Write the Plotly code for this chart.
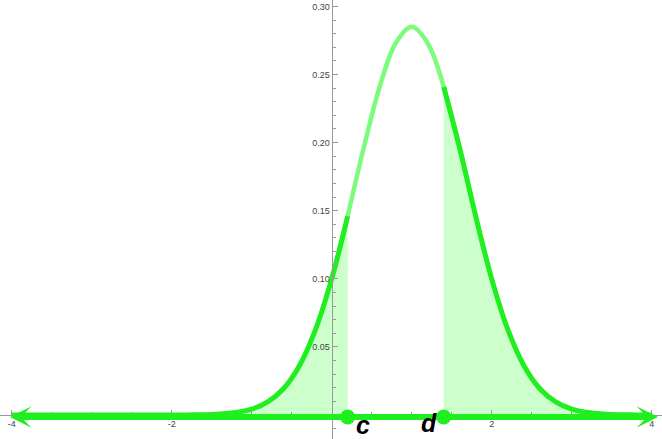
import plotly.graph_objects as go

# curve (x step 0.2)
x_vals = [-4.0, -3.8, -3.6, -3.4, -3.2, -3.0, -2.8, -2.6, -2.4, -2.2,
          -2.0, -1.8, -1.6, -1.4, -1.2, -1.0, -0.8, -0.6, -0.4, -0.2,
          0.0, 0.2, 0.4, 0.6, 0.8, 1.0, 1.2, 1.4, 1.6, 1.8,
          2.0, 2.2, 2.4, 2.6, 2.8, 3.0, 3.2, 3.4, 3.6, 3.8, 4.0]
y_vals = [0.0, 0.0, 0.0, 0.0, 0.0, 0.0, 0.0, 0.0, 0.0, 0.0,
          0.0, 0.0001, 0.0002, 0.0007, 0.0018, 0.0043, 0.0096, 0.0195, 0.0366, 0.0631,
          0.100, 0.146, 0.196, 0.241, 0.273, 0.285, 0.273, 0.241, 0.196, 0.146,
          0.100, 0.0631, 0.0366, 0.0195, 0.0096, 0.0043, 0.0018, 0.0007, 0.0002, 0.0001, 0.0]

c_val = 0.2
d_val = 1.4
point_labels = ["c", "d"]

x_ticks = [-4, -2, 2, 4]
x_ticktext = ["-4", "-2", "2", "4"]
y_ticks = [0.05, 0.10, 0.15, 0.20, 0.25, 0.30]
y_ticktext = ["0.05", "0.10", "0.15", "0.20", "0.25", "0.30"]
x_minor = [-3.5, -3, -2.5, -1.5, -1, -0.5, 0.5, 1, 1.5, 2.5, 3, 3.5]
y_minor = [-0.01] + [round(0.01 * i, 2) for i in range(1, 31)]

GREEN = "#1fee1f"
LIGHT = "#7dfb7d"
FILL = "#ccffcc"

X_RANGE = [-4.146, 4.129]
Y_RANGE = [-0.0176, 0.3047]

left = [(x, y) for x, y in zip(x_vals, y_vals) if x <= c_val + 1e-9]
mid = [(x, y) for x, y in zip(x_vals, y_vals) if c_val - 1e-9 <= x <= d_val + 1e-9]
right = [(x, y) for x, y in zip(x_vals, y_vals) if x >= d_val - 1e-9]

fig = go.Figure()

# shaded tails
for seg in (left, right):
    fig.add_trace(go.Scatter(
        x=[p[0] for p in seg] + [seg[-1][0]], y=[p[1] for p in seg] + [0],
        mode="lines", line=dict(width=0, shape="linear"),
        fill="tozeroy", fillcolor=FILL, hoverinfo="skip"))

# curve: light in the middle, bright in the tails
fig.add_trace(go.Scatter(x=[p[0] for p in mid], y=[p[1] for p in mid], mode="lines",
                         line=dict(color=LIGHT, width=4.5, shape="spline")))
for seg in (left, right):
    fig.add_trace(go.Scatter(x=[p[0] for p in seg], y=[p[1] for p in seg], mode="lines",
                             line=dict(color=GREEN, width=5, shape="spline")))

# points c and d
fig.add_trace(go.Scatter(x=[c_val, d_val], y=[-0.0015, -0.0015], mode="markers",
                         marker=dict(color=GREEN, size=15, symbol="circle")))

# double-headed arrow along the x axis
fig.add_annotation(x=4.08, y=-0.0015, ax=-4.04, ay=-0.0015, xref="x", yref="y",
                   axref="x", ayref="y", text="", showarrow=True,
                   arrowhead=3, startarrowhead=3, arrowside="end+start",
                   arrowsize=0.6, startarrowsize=0.6, arrowwidth=6, arrowcolor=GREEN)

label_font = dict(family="Liberation Sans", size=25, color="black", weight="bold", style="italic")
fig.add_annotation(x=c_val, y=0, text=point_labels[0], showarrow=False,
                   xanchor="left", yanchor="middle", xshift=6, yshift=-10, font=label_font)
fig.add_annotation(x=d_val, y=0, text=point_labels[1], showarrow=False,
                   xanchor="right", yanchor="middle", xshift=-5, yshift=-8, font=label_font)

axis_common = dict(showgrid=False, zeroline=False, showline=True, linecolor="#999999",
                   linewidth=1, ticks="inside", ticklen=5, tickcolor="#999999",
                   tickfont=dict(family="Liberation Sans", size=9, color="#444444"),
                   anchor="free", tickmode="array")

fig.update_layout(
    width=662, height=439, margin=dict(l=0, r=0, t=0, b=0),
    paper_bgcolor="white", plot_bgcolor="white", showlegend=False,
    xaxis=dict(range=X_RANGE, tickvals=x_ticks, ticktext=x_ticktext,
               position=(0 - Y_RANGE[0]) / (Y_RANGE[1] - Y_RANGE[0]),
               minor=dict(tickmode="array", tickvals=x_minor, ticks="inside", ticklen=3,
                          tickcolor="#999999"),
               **axis_common),
    yaxis=dict(range=Y_RANGE, tickvals=y_ticks, ticktext=y_ticktext,
               position=(0 - X_RANGE[0]) / (X_RANGE[1] - X_RANGE[0]),
               minor=dict(tickmode="array", tickvals=y_minor, ticks="inside", ticklen=3,
                          tickcolor="#999999"),
               **axis_common),
)

# drop the browser's default page margin so the figure fills the window
fig.write_html("out.html", config={"displayModeBar": False},
               post_script="document.body.style.margin='0';")
